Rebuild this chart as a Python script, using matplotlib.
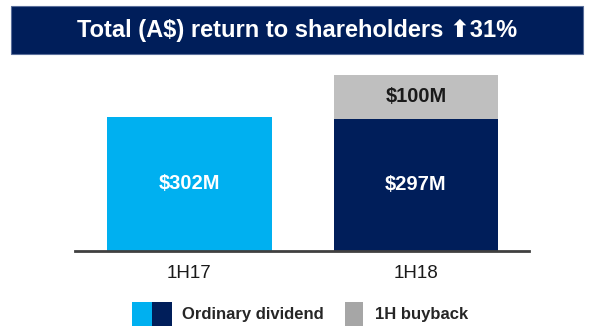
import matplotlib
matplotlib.use("Agg")
import matplotlib.pyplot as plt
from matplotlib.patches import Rectangle

# half-year returns to shareholders, A$ millions
periods = ["1H17", "1H18"]
dividend = [302, 297]
buyback = [0, 100]
dividend_colors = ["#00B0F0", "#001E5A"]
buyback_color = "#BFBFBF"
title = "Total (A$) return to shareholders \u2b0631%"

plt.rcParams["font.family"] = ["Liberation Sans", "DejaVu Sans"]

W, H = 598, 330
fig = plt.figure(figsize=(W / 100, H / 100), dpi=100)


def fx(px):
    return px / W


def fy(py):
    return 1 - py / H


# navy title banner
fig.patches.append(Rectangle((fx(11), fy(54)), fx(572), 48 / H, transform=fig.transFigure,
                             facecolor="#001E5A", edgecolor="#5A6E9A", linewidth=0.8))
fig.text(fx(297), fy(30), title, color="white", fontsize=17, fontweight="bold",
         ha="center", va="center")

ax = fig.add_axes([fx(75), fy(250.7), fx(454), (250.7 - 60) / H])
x = range(len(periods))
ax.bar(x, dividend, width=0.728, color=dividend_colors)
ax.bar(x, buyback, width=0.728, bottom=dividend, color=buyback_color)
ax.set_xlim(-0.5055, 1.499)
ax.set_ylim(0, 429.8)

for i, (d, b) in enumerate(zip(dividend, buyback)):
    ax.text(i, d / 2, f"${d}M", color="white", fontsize=14.5, fontweight="bold",
            ha="center", va="center")
    if b:
        ax.text(i, d + b / 2, f"${b}M", color="#1A1A1A", fontsize=14.5, fontweight="bold",
                ha="center", va="center")

for s in ["top", "right", "left"]:
    ax.spines[s].set_visible(False)
ax.spines["bottom"].set_color("#404040")
ax.spines["bottom"].set_linewidth(2)
ax.set_yticks([])
ax.set_xticks(list(x))
ax.set_xticklabels(periods, fontsize=13.5, color="#1A1A1A")
ax.tick_params(axis="x", length=0, pad=10)

# legend drawn as swatches in figure space
fig.patches.append(Rectangle((fx(132), fy(326)), fx(20), 24 / H, transform=fig.transFigure,
                             facecolor=dividend_colors[0]))
fig.patches.append(Rectangle((fx(152), fy(326)), fx(20), 24 / H, transform=fig.transFigure,
                             facecolor=dividend_colors[1]))
fig.text(fx(182), fy(314), "Ordinary dividend", fontsize=12, fontweight="bold",
         color="#262626", va="center")
fig.patches.append(Rectangle((fx(345), fy(326)), fx(18), 24 / H, transform=fig.transFigure,
                             facecolor="#A6A6A6"))
fig.text(fx(375), fy(314), "1H buyback", fontsize=12, fontweight="bold",
         color="#262626", va="center")

fig.savefig("out.png", dpi=100)
